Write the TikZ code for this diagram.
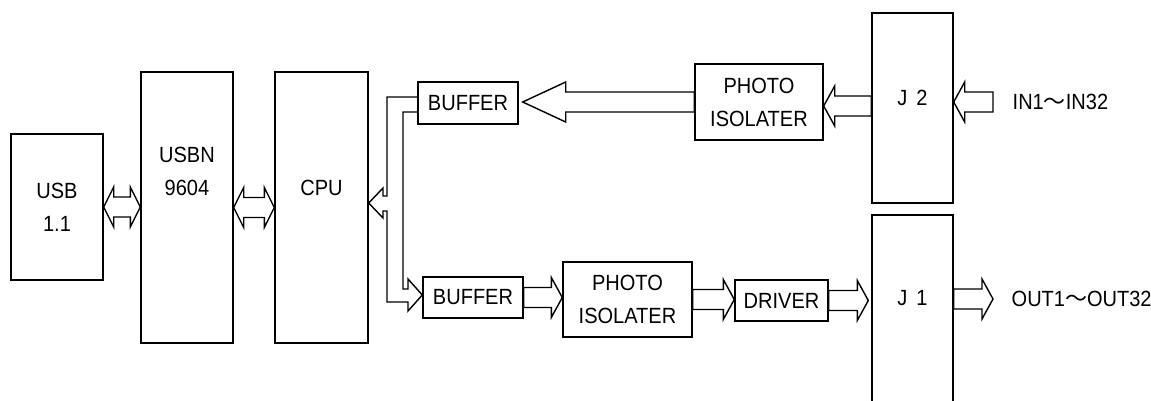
\documentclass[tikz,border=0pt]{standalone}
\usepackage{fontspec}
\setmainfont[FakeStretch=0.91]{Liberation Sans}
\newfontfamily\cjk{Noto Sans CJK JP}
\usetikzlibrary{calc}
\begin{document}
\begin{tikzpicture}[x=1pt,y=-1pt,line width=1.4pt,
  every node/.style={font=\fontsize{22}{33}\selectfont,align=center,inner sep=0pt},
  box/.style 2 args={draw,minimum width=#1,minimum height=#2},
  bus/.style={to path={let \p1=(\tikztostart),\p2=(\tikztotarget),\p3=($(\x2,\y1)!#1!(\x1,\y1)$) in
    (\x1,\y1+10pt) -- (\x3,\y1+10pt) -- (\x3,\y1+20pt) -- (\x2,\y1) -- (\x3,\y1-20pt) -- (\x3,\y1-10pt) -- (\x1,\y1-10pt) -- cycle}},
  bus/.default=11pt,
  busx/.style={to path={let \p1=(\tikztostart),\p2=(\tikztotarget),\p3=($(\x2,\y1)!10pt!(\x1,\y1)$),\p4=($(\x1,\y1)!10pt!(\x2,\y1)$) in
    (\x4,\y1+10pt) -- (\x3,\y1+10pt) -- (\x3,\y1+20pt) -- (\x2,\y1) -- (\x3,\y1-20pt) -- (\x3,\y1-10pt)
    -- (\x4,\y1-10pt) -- (\x4,\y1-20pt) -- (\x1,\y1) -- (\x4,\y1+20pt) -- cycle}}]
  \useasboundingbox (0,0) rectangle (1151,401);
  \node[box={92pt}{146pt}] (usb) at (57,207) {USB\\1.1};
  \node[box={92pt}{271pt},label={[yshift=36pt]center:USBN\\9604}] (usbn) at (187,207.5) {};
  \node[box={93pt}{271pt},label={[yshift=20pt]center:CPU}] (cpu) at (321.5,207.5) {};
  \node[box={100pt}{42pt}] (buf1) at (468,103) {BUFFER};
  \node[box={100pt}{41pt}] (buf2) at (473,297.5) {BUFFER};
  \node[box={128pt}{76pt}] (pi1) at (759,102) {PHOTO\\ISOLATER};
  \node[box={129pt}{75pt}] (pi2) at (627.5,299.5) {PHOTO\\ISOLATER};
  \node[box={93pt}{41pt}] (drv) at (781.5,300.5) {DRIVER};
  \node[box={81pt}{190pt},label={[yshift=10pt]center:J\hspace{9pt}2}] (j2) at (912.5,108) {};
  \node[box={81pt}{195pt},label={[yshift=14pt]center:J\hspace{9pt}1}] (j1) at (912.5,312.5) {};
  \node[anchor=west] (in) at (1012,102) {IN1{\cjk ～}IN32};
  \node[anchor=west] (out) at (1011,299) {OUT1{\cjk ～}OUT32};
  \draw (usb.east) to[busx] (usbn.west); \draw (usbn.east) to[busx] (cpu.west);
  \draw (pi1.west) to[bus=43pt] ([xshift=4pt]buf1.east); \draw (j2.west |- 0,106) to[bus] (pi1.east);
  \draw ([xshift=-19pt]in.west) to[bus] (j2.east);
  \draw (buf2.east) to[bus] (pi2.west); \draw (pi2.east) to[bus] (drv.west);
  \draw (drv.east) to[bus] ([xshift=-3pt]j1.west); \draw (j1.east |- out.west) to[bus] ([xshift=-18pt]out.west);
  \draw ([yshift=6pt]buf1.west) -| (387,196) -- (383,196) -- (383,188) -- (cpu.east |- 0,203) -- (383,218) -- (383,211) -- (387,211)
    |- (408,302) -- (408,311) -- (buf2.west |- 0,295) -- (408,279) -- (408,289) -| (403,112) -- ([yshift=-9pt]buf1.west);
\end{tikzpicture}
\end{document}
